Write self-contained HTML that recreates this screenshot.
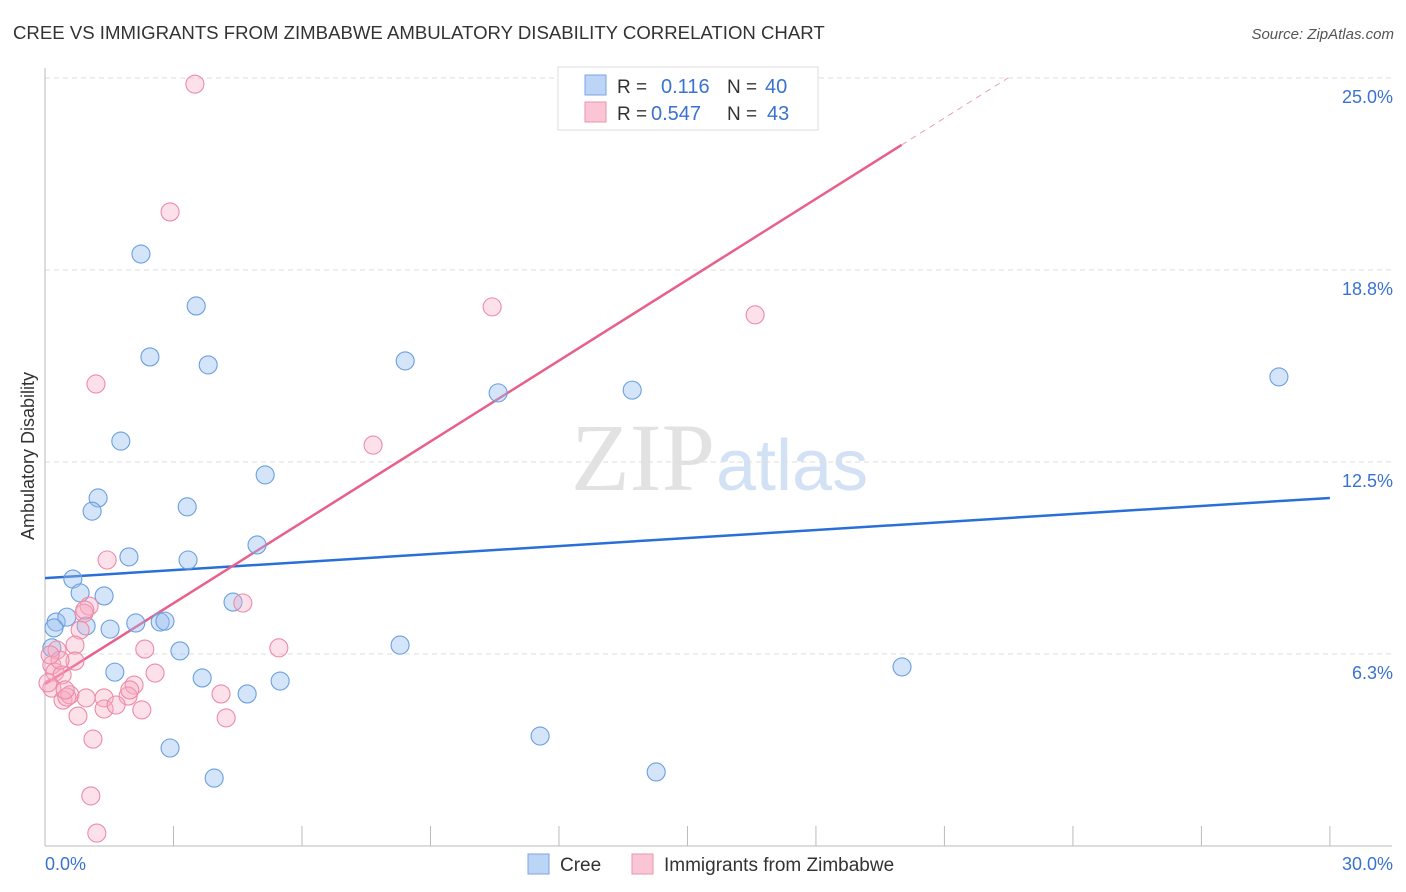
<!DOCTYPE html>
<html><head><meta charset="utf-8"><style>
body{margin:0;background:#fff;font-family:"Liberation Sans",sans-serif;}
svg{display:block}
</style></head><body>
<svg id="chart" width="1406" height="892" xmlns="http://www.w3.org/2000/svg">
<text x="13" y="39" font-size="18.6" fill="#333">CREE VS IMMIGRANTS FROM ZIMBABWE AMBULATORY DISABILITY CORRELATION CHART</text>
<text x="1394" y="39" font-size="15" fill="#555" text-anchor="end" font-style="italic">Source: ZipAtlas.com</text>
<text x="715" y="490" font-size="96" fill="#e2e2e2" text-anchor="end" font-family="Liberation Serif,serif">ZIP</text>
<text x="716" y="490" font-size="72" fill="#d3e1f5">atlas</text>
<g id="grid"></g>
<g id="axes"></g>
<g id="lines"></g>
<g id="pts"></g>
<text transform="translate(34,456) rotate(-90)" font-size="18" fill="#333" text-anchor="middle">Ambulatory Disability</text>
<g>
<rect x="558" y="67" width="260" height="63" fill="#fff" stroke="#ddd"/>
<rect x="585" y="75" width="21" height="20" fill="#bcd4f5" stroke="#7aa6e6"/>
<rect x="585" y="102" width="21" height="20" fill="#fac6d6" stroke="#ee91ae"/>
<text x="617" y="93" font-size="19" fill="#333">R =</text>
<text x="661" y="93" font-size="20" fill="#3a72d0">0.116</text>
<text x="727" y="93" font-size="19" fill="#333">N =</text>
<text x="765" y="93" font-size="20" fill="#3a72d0">40</text>
<text x="617" y="120" font-size="19" fill="#333">R =</text>
<text x="651" y="120" font-size="20" fill="#3a72d0">0.547</text>
<text x="727" y="120" font-size="19" fill="#333">N =</text>
<text x="767" y="120" font-size="20" fill="#3a72d0">43</text>
</g>
<g>
<rect x="528" y="854" width="21" height="20" fill="#bcd4f5" stroke="#7aa6e6"/>
<text x="560" y="871" font-size="19" fill="#333">Cree</text>
<rect x="632" y="854" width="21" height="20" fill="#fac6d6" stroke="#ee91ae"/>
<text x="664" y="871" font-size="19" fill="#333">Immigrants from Zimbabwe</text>
</g>
</svg>
<script>
const yTicks=[6.25,12.5,18.75,25];
const yTickLabels=["6.3%","12.5%","18.8%","25.0%"];
const xTickLabels=["0.0%","30.0%"];
const creeX=[2.24,3.53,2.45,3.81,8.41,10.58,13.71,28.81,1.77,5.14,1.24,1.10,3.32,4.95,1.96,3.34,0.65,0.82,1.38,4.39,0.26,0.51,0.96,1.52,2.12,2.69,2.80,0.21,0.16,8.29,3.15,1.63,3.67,4.72,5.49,20.01,11.56,2.92,3.95,14.27];
const creeY=[19.27,17.58,15.92,15.66,15.79,14.75,14.84,15.27,13.18,12.08,11.33,10.90,11.04,9.80,9.41,9.31,8.69,8.24,8.14,7.94,7.29,7.45,7.16,7.06,7.26,7.29,7.32,7.10,6.45,6.54,6.35,5.66,5.47,4.95,5.37,5.83,3.58,3.19,2.21,2.41];
const zimX=[3.50,2.92,10.44,16.58,1.19,7.66,1.45,4.62,1.03,0.91,0.82,5.46,2.33,0.70,0.28,0.70,0.16,0.23,0.40,2.57,2.08,0.16,0.07,0.42,0.58,0.51,0.96,1.38,1.94,4.11,1.38,1.66,2.26,0.77,4.23,1.12,1.07,1.21,0.35,0.12,0.93,1.98,0.47];
const zimY=[24.80,20.64,17.55,17.29,15.04,13.05,9.31,7.91,7.81,7.58,7.03,6.45,6.41,6.54,6.38,6.02,5.89,5.66,5.57,5.63,5.24,5.14,5.31,4.75,4.92,4.85,4.82,4.82,4.88,4.95,4.46,4.59,4.43,4.23,4.17,3.48,1.63,0.42,6.05,6.22,7.68,5.08,5.08];
const creeTrend=[8.72,11.33];
const zimTrend=[5.27,0.8775];
const NS="http://www.w3.org/2000/svg";
const X=v=>45+v*42.83, Y=v=>846-v*30.72;
function mk(parent,tag,attrs){const e=document.createElementNS(NS,tag);for(const k in attrs)e.setAttribute(k,attrs[k]);document.getElementById(parent).appendChild(e);return e;}
yTicks.forEach((t,i)=>{
 const g=mk('grid','line',{x1:45,x2:1392,y1:Y(t),y2:Y(t),stroke:'#ddd','stroke-dasharray':'5,4'});
 
 
 const l=mk('axes','text',{x:1393,y:Y(t)+25,'font-size':18,fill:'#3a72d0','text-anchor':'end'});
 l.textContent=yTickLabels[i];
 
 
});
mk('axes','line',{x1:45,x2:45,y1:68,y2:846,stroke:'#bbb'});
mk('axes','line',{x1:45,x2:1392,y1:846,y2:846,stroke:'#bbb'});
for(let i=1;i<=10;i++){const t=mk('axes','line',{x1:X(i*3),x2:X(i*3),y1:826,y2:846,stroke:'#bbb'});
 
 }
const xl0=mk('axes','text',{x:45,y:870,'font-size':18,fill:'#3a72d0'});xl0.textContent=xTickLabels[0];


const xl1=mk('axes','text',{x:1393,y:870,'font-size':18,fill:'#3a72d0','text-anchor':'end'});xl1.textContent=xTickLabels[1];


function dot(x,y,fill,stroke,name){const c=mk('pts','circle',{cx:X(x),cy:Y(y),r:9,fill:fill,stroke:stroke,'stroke-width':1.1});
 
 }
creeX.forEach((x,i)=>dot(x,creeY[i],'rgba(150,190,240,0.4)','#6a9fe0','cree-point'));
zimX.forEach((x,i)=>dot(x,zimY[i],'rgba(245,170,195,0.35)','#ee8aa6','zimbabwe-point'));
const bl=mk('lines','line',{x1:X(0),y1:Y(creeTrend[0]),x2:X(30),y2:Y(creeTrend[1]),stroke:'#2a6fd6','stroke-width':2.5});


const pe=20;
const pl=mk('lines','line',{x1:X(0),y1:Y(zimTrend[0]),x2:X(pe),y2:Y(zimTrend[0]+zimTrend[1]*pe),stroke:'#e8608a','stroke-width':2.5});


const xe=(25-zimTrend[0])/zimTrend[1];
const pd=mk('lines','line',{x1:X(pe),y1:Y(zimTrend[0]+zimTrend[1]*pe),x2:X(xe),y2:Y(25),stroke:'#e8a0b8','stroke-width':1,'stroke-dasharray':'6,5'});


</script>
</body></html>
